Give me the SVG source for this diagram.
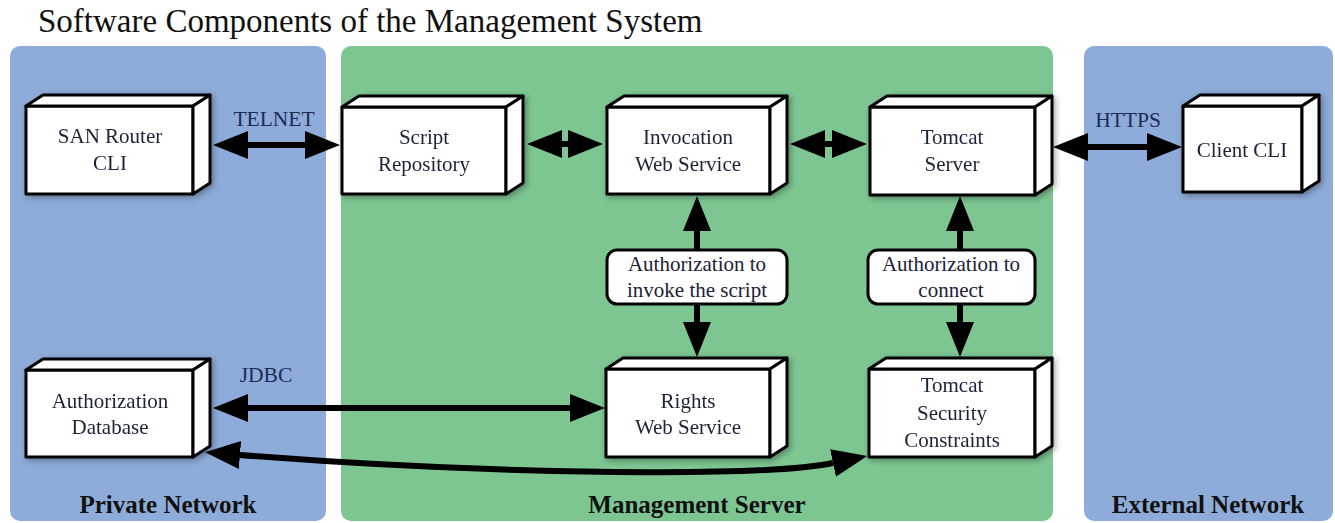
<svg xmlns="http://www.w3.org/2000/svg" width="1335" height="523" viewBox="0 0 1335 523">
  <defs>
    <style>
      .title { font-family: "Liberation Serif", "Times New Roman", serif; font-size: 33px; fill: #111; }
      .zone { font-family: "Liberation Serif", "Times New Roman", serif; font-size: 25px; font-weight: bold; fill: #111; text-anchor: middle; }
      .txt { font-family: "Liberation Serif", "Times New Roman", serif; font-size: 21px; fill: #1d2238; text-anchor: middle; }
      .lbl { font-family: "Liberation Serif", "Times New Roman", serif; font-size: 21.5px; fill: #1b2b58; text-anchor: middle; }
      .face { fill: #fff; stroke: #000; stroke-width: 3; stroke-linejoin: round; }
      .tag { fill: #fff; stroke: #000; stroke-width: 3; }
      .wire { fill: none; stroke: #000; stroke-width: 6; marker-start: url(#head); marker-end: url(#head); }
      .one { fill: none; stroke: #000; stroke-width: 6; }
    </style>
    <marker id="head" markerUnits="userSpaceOnUse" markerWidth="36" markerHeight="28" refX="0" refY="14" orient="auto-start-reverse" viewBox="0 0 36 28">
      <path d="M0,0 L35,14 L0,28 z" fill="#000"/>
    </marker>
    <filter id="shade" x="-10%" y="-15%" width="125%" height="135%">
      <feDropShadow dx="2" dy="2" stdDeviation="3" flood-color="#000" flood-opacity="0.35"/>
    </filter>
  </defs>

  <rect width="1335" height="523" fill="#fff"/>
  <text class="title" x="38" y="32">Software Components of the Management System</text>

  <!-- network zones -->
  <g id="zones">
    <rect x="10" y="46" width="316" height="475" rx="10" fill="#8eacd9"/>
    <rect x="341" y="46" width="712" height="475" rx="10" fill="#7dc692"/>
    <rect x="1084" y="46" width="249" height="475" rx="10" fill="#8eacd9"/>
    <text class="zone" x="168" y="513">Private Network</text>
    <text class="zone" x="697" y="513">Management Server</text>
    <text class="zone" x="1208" y="513">External Network</text>
  </g>

  <!-- connectors -->
  <g id="connectors">
    <line class="wire" x1="248" y1="145" x2="305" y2="145"/>
    <line class="wire" x1="562" y1="144" x2="568" y2="144"/>
    <line class="wire" x1="825" y1="144" x2="832" y2="144"/>
    <line class="wire" x1="1088" y1="147" x2="1147" y2="147"/>
    <line class="wire" x1="248" y1="408" x2="570" y2="408"/>
    <path class="wire" d="M240,455 C480,474 760,478 833,463"/>
    <line class="one" x1="697" y1="231" x2="697" y2="250" marker-start="url(#head)"/>
    <line class="one" x1="697" y1="304" x2="697" y2="322" marker-end="url(#head)"/>
    <line class="one" x1="960" y1="231" x2="960" y2="250" marker-start="url(#head)"/>
    <line class="one" x1="960" y1="304" x2="960" y2="322" marker-end="url(#head)"/>
    <text class="lbl" x="274" y="126">TELNET</text>
    <text class="lbl" x="1128" y="127">HTTPS</text>
    <text class="lbl" x="266" y="382">JDBC</text>
  </g>

  <!-- components: front face, top face, side face -->
  <g id="san-router-cli" filter="url(#shade)">
    <rect class="face" x="26" y="106" width="167" height="88"/>
    <path class="face" d="M26,106 L43,95 L210,95 L193,106 Z"/>
    <path class="face" d="M193,106 L210,95 L210,183 L193,194 Z"/>
    <text class="txt" x="110" y="143">SAN Router</text>
    <text class="txt" x="110" y="170">CLI</text>
  </g>

  <g id="script-repository" filter="url(#shade)">
    <rect class="face" x="342" y="107" width="164" height="87"/>
    <path class="face" d="M342,107 L359,96 L523,96 L506,107 Z"/>
    <path class="face" d="M506,107 L523,96 L523,183 L506,194 Z"/>
    <text class="txt" x="424" y="144">Script</text>
    <text class="txt" x="424" y="171">Repository</text>
  </g>

  <g id="invocation-web-service" filter="url(#shade)">
    <rect class="face" x="607" y="107" width="163" height="87"/>
    <path class="face" d="M607,107 L624,96 L787,96 L770,107 Z"/>
    <path class="face" d="M770,107 L787,96 L787,183 L770,194 Z"/>
    <text class="txt" x="688" y="144">Invocation</text>
    <text class="txt" x="688" y="171">Web Service</text>
  </g>

  <g id="tomcat-server" filter="url(#shade)">
    <rect class="face" x="870" y="107" width="165" height="88"/>
    <path class="face" d="M870,107 L887,96 L1052,96 L1035,107 Z"/>
    <path class="face" d="M1035,107 L1052,96 L1052,184 L1035,195 Z"/>
    <text class="txt" x="952" y="144">Tomcat</text>
    <text class="txt" x="952" y="171">Server</text>
  </g>

  <g id="client-cli" filter="url(#shade)">
    <rect class="face" x="1183" y="106" width="119" height="86"/>
    <path class="face" d="M1183,106 L1200,95 L1319,95 L1302,106 Z"/>
    <path class="face" d="M1302,106 L1319,95 L1319,181 L1302,192 Z"/>
    <text class="txt" x="1242" y="157">Client CLI</text>
  </g>

  <g id="authorization-database" filter="url(#shade)">
    <rect class="face" x="26" y="370" width="167" height="87"/>
    <path class="face" d="M26,370 L43,359 L210,359 L193,370 Z"/>
    <path class="face" d="M193,370 L210,359 L210,446 L193,457 Z"/>
    <text class="txt" x="110" y="408">Authorization</text>
    <text class="txt" x="110" y="434">Database</text>
  </g>

  <g id="rights-web-service" filter="url(#shade)">
    <rect class="face" x="606" y="369" width="164" height="88"/>
    <path class="face" d="M606,369 L623,358 L787,358 L770,369 Z"/>
    <path class="face" d="M770,369 L787,358 L787,446 L770,457 Z"/>
    <text class="txt" x="688" y="408">Rights</text>
    <text class="txt" x="688" y="434">Web Service</text>
  </g>

  <g id="tomcat-security-constraints" filter="url(#shade)">
    <rect class="face" x="869" y="369" width="166" height="88"/>
    <path class="face" d="M869,369 L886,358 L1052,358 L1035,369 Z"/>
    <path class="face" d="M1035,369 L1052,358 L1052,446 L1035,457 Z"/>
    <text class="txt" x="952" y="392">Tomcat</text>
    <text class="txt" x="952" y="420">Security</text>
    <text class="txt" x="952" y="447">Constraints</text>
  </g>

  <!-- authorization checkpoints -->
  <g id="auth-invoke">
    <rect class="tag" x="607" y="250" width="180" height="54" rx="10"/>
    <text class="txt" x="697" y="271">Authorization to</text>
    <text class="txt" x="697" y="297">invoke the script</text>
  </g>
  <g id="auth-connect">
    <rect class="tag" x="868" y="250" width="167" height="54" rx="10"/>
    <text class="txt" x="951" y="271">Authorization to</text>
    <text class="txt" x="951" y="297">connect</text>
  </g>
</svg>
